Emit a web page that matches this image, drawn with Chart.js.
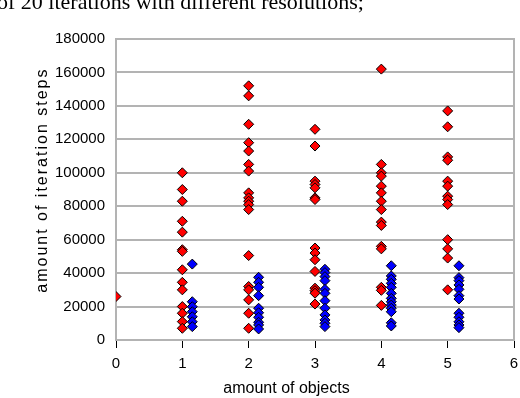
<!DOCTYPE html>
<html>
<head>
<meta charset="utf-8">
<script src="https://cdn.jsdelivr.net/npm/chart.js@4/dist/chart.umd.min.js"></script>
<style>
  html, body { margin: 0; padding: 0; background: #fff; }
  #wrap { position: relative; width: 520px; height: 398px; overflow: hidden; }
  #cap { position: absolute; left: -3px; top: -9px; font-family: "Liberation Serif", serif; font-size: 22px; line-height: 22px; white-space: nowrap; color: #000; }
  canvas { position: absolute; left: 0; top: 0; }
</style>
</head>
<body>
<div id="wrap">
  <canvas id="c" width="520" height="398"></canvas>
  <div id="cap">of 20 iterations with different resolutions;</div>
</div>
<script>
// ---- data ----
const xTickLabels = ["0", "1", "2", "3", "4", "5", "6"];
const yTickLabels = ["0", "20000", "40000", "60000", "80000", "100000", "120000", "140000", "160000", "180000"];

// red series: amount of iteration steps per amount of objects
const redX = [0, 1, 2, 3, 4, 5];
const red0 = [26000];
const red1 = [100000, 90000, 83000, 71000, 64500, 54000, 53000, 42000, 34500, 30000, 20000, 16000, 11000, 7000];
const red2 = [152000, 146000, 129000, 118000, 113000, 105000, 101000, 88000, 85000, 83000, 81000, 78000, 50500, 32000, 30000, 24000, 16000, 7000];
const red3 = [126000, 116000, 95000, 93000, 91000, 85000, 84000, 55000, 52000, 48000, 41000, 31000, 29500, 28000, 21500];
const red4 = [162000, 105000, 100000, 98000, 92000, 88000, 83000, 78000, 70500, 68500, 56000, 54500, 31500, 29700, 20700];
const red5 = [137000, 127500, 109500, 107500, 95000, 92000, 86000, 84000, 81000, 60000, 54500, 49000, 30000];

// blue series: plotted slightly to the right of each object count
const blueX = [1.15, 2.15, 3.15, 4.15, 5.17];
const blue1 = [45400, 22900, 19900, 16900, 13900, 10900, 8000];
const blue2 = [37500, 34500, 31500, 26500, 19000, 16300, 13600, 10600, 9000, 6600];
const blue3 = [42300, 40300, 37900, 35500, 30300, 27900, 23500, 19000, 15000, 12000, 10000, 8000];
const blue4 = [44400, 38300, 36300, 33900, 31500, 27900, 24900, 22900, 20900, 19000, 16900, 10300, 8400];
const blue5 = [44400, 37300, 35500, 32900, 30300, 26500, 24500, 16000, 13600, 10900, 9000, 7400];

const xTitle = "amount of objects";
const yTitle = "amount of iteration steps";

// ---- build datasets ----
const redGroups = [red0, red1, red2, red3, red4, red5];
const blueGroups = [blue1, blue2, blue3, blue4, blue5];
const redPoints = [];
redGroups.forEach((g, i) => g.forEach(v => redPoints.push({ x: redX[i], y: v })));
const bluePoints = [];
blueGroups.forEach((g, i) => g.forEach(v => bluePoints.push({ x: blueX[i], y: v })));

const GRID = "#b3b3b3";
const FONT = "'Liberation Sans', Arial, sans-serif";

const framePlugin = {
  id: "frame",
  beforeDatasetsDraw(chart) {
    const { ctx, chartArea: a } = chart;
    ctx.save();
    ctx.strokeStyle = GRID;
    ctx.lineWidth = 2;
    ctx.beginPath();
    ctx.moveTo(a.right, a.top - 1);
    ctx.lineTo(a.right, a.bottom + 1);
    ctx.stroke();
    ctx.restore();
  },
  afterDraw(chart) {
    const { ctx } = chart;
    const xs = chart.scales.x, ys = chart.scales.y;
    ctx.save();
    ctx.fillStyle = "#000";
    ctx.font = "16px " + FONT;
    ctx.textAlign = "center";
    ctx.textBaseline = "middle";
    ctx.fillText(xTitle, xs.getPixelForValue(2.57), 389);
    ctx.translate(43, ys.getPixelForValue(95000));
    ctx.rotate(-Math.PI / 2);
    ctx.letterSpacing = "2px";
    ctx.fillText(yTitle, 1, 0);
    ctx.restore();
  }
};

new Chart(document.getElementById("c"), {
  type: "scatter",
  data: {
    datasets: [
      { label: "red", data: redPoints, backgroundColor: "#ff0000", borderColor: "#000", borderWidth: 1, pointStyle: "rectRot", pointRadius: 5 },
      { label: "blue", data: bluePoints, backgroundColor: "#0000ff", borderColor: "#000", borderWidth: 1, pointStyle: "rectRot", pointRadius: 5 }
    ]
  },
  options: {
    responsive: false,
    animation: false,
    events: [],
    layout: { padding: { left: 0, right: 4, top: 39, bottom: 0 } },
    plugins: { legend: { display: false }, tooltip: { enabled: false }, title: { display: false } },
    scales: {
      x: {
        type: "linear", min: 0, max: 6,
        afterFit(s) { s.height = 58; s.paddingLeft = 0; s.paddingRight = 0; },
        afterBuildTicks(s) { s.ticks = xTickLabels.map(t => ({ value: Number(t) })); },
        ticks: { stepSize: 1, color: "#000", font: { family: FONT, size: 15 }, padding: 7, callback: (v) => xTickLabels[v] },
        grid: { drawOnChartArea: false, drawTicks: true, tickLength: 8, tickColor: "#000", tickWidth: 1 },
        border: { display: true, color: GRID, width: 2 }
      },
      y: {
        type: "linear", min: 0, max: 180000,
        afterFit(s) { s.width = 116; s.paddingTop = 0; s.paddingBottom = 0; },
        afterBuildTicks(s) { s.ticks = yTickLabels.map(t => ({ value: Number(t) })); },
        ticks: { color: "#000", font: { family: FONT, size: 15 }, padding: 11, callback: (v) => String(v) },
        grid: { color: GRID, lineWidth: 2, drawTicks: false },
        border: { display: true, color: GRID, width: 2 }
      }
    }
  },
  plugins: [framePlugin]
});
</script>
</body>
</html>
